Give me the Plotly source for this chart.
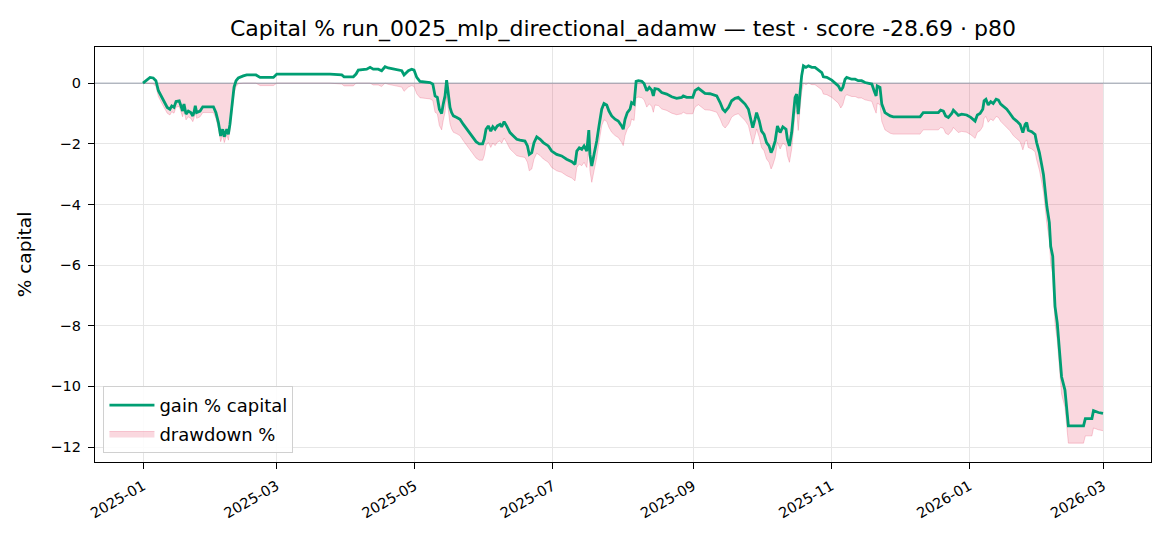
import numpy as np
import pandas as pd
import plotly.graph_objects as go

START_DATE = "2025-01-01"

# days since START_DATE
day_offsets = [
    0, 0.9, 3.1, 4.5, 5.7, 6.8, 8.3, 9.7, 10.7, 11.9, 12.7, 13.7, 14.6, 16.0, 16.7,
    17.5, 18.1, 19.0, 20.0, 21.1, 22.0, 22.5, 23.1, 23.7, 25.2, 26.4, 31.1, 32.2, 33.3,
    34.3, 35.2, 35.9, 37.0, 37.7, 38.4, 39.3, 40.2, 41.1, 42.1, 44.3, 45.8, 49.9, 51.7,
    57.6, 59.1, 82.6,
    87.8, 88.8, 92.9, 94.1, 95.1, 98.8, 100.3, 101.7, 103.9, 105.4, 106.9, 108.3, 111.3,
    114.3, 115.3, 116.2, 117.2, 118.7, 119.7, 120.9, 122.3, 126.8, 128.0, 129.0, 130.0,
    130.9, 131.9, 132.6, 133.4, 134.1, 134.8, 135.6, 136.3, 137.1, 138.6, 140.0, 141.5,
    143.0, 145.2, 147.1, 148.5, 150.0, 150.7, 151.5, 152.5, 153.6, 154.5, 155.5, 156.5,
    157.7, 158.4, 159.5, 160.6, 162.1, 163.6, 165.1, 166.5,
    168.7, 169.8, 170.6, 171.7, 172.7, 173.9, 175.4, 176.8, 179.0, 180.5, 182.7, 184.9,
    187.1, 189.4, 190.8, 191.6, 192.7, 193.8, 194.8, 196.0, 196.9, 197.4, 198.2, 199.2,
    200.4, 201.5, 202.6, 203.6, 204.8, 205.8, 207.0, 208.5, 209.9, 211.4, 212.1, 212.9,
    213.9, 215.1, 215.8, 216.9, 217.8, 218.8, 220.3, 221.3, 222.5, 223.6, 224.7, 225.4,
    226.1, 227.6, 229.1, 231.3, 233.5, 235.7, 237.9, 238.6, 240.1, 242.8, 243.8, 245.3,
    246.8, 248.2, 250.4,
    253.4, 254.9, 256.1, 257.1, 258.6, 260.0, 261.5, 262.9, 264.4, 265.9, 267.4, 268.4,
    269.3, 270.3, 271.0, 272.2, 273.2, 274.3, 275.4, 276.5, 277.4, 278.1, 279.2, 280.2,
    281.4, 282.6, 284.0, 284.6, 285.5, 286.5, 287.2, 288.0, 288.7, 289.4, 290.2, 290.9,
    291.7, 292.8, 293.9, 295.4, 296.8, 298.3, 299.8, 300.5, 302.0, 304.2, 305.7, 307.1,
    308.2, 309.1, 310.1, 310.8, 313.0, 314.5, 315.9, 317.4, 318.9, 320.4, 321.9, 322.9,
    323.8, 324.3, 325.5, 326.3, 327.7, 330.0, 331.4,
    343.2, 344.6, 351.3, 352.3, 353.5, 354.5, 355.7, 357.2, 357.9, 359.1, 360.1, 361.6,
    363.8, 365.6, 366.7, 367.5, 368.5, 369.7, 370.9, 371.5, 372.3, 373.3, 374.4, 375.5,
    376.8, 377.8, 378.8, 380.0, 381.5, 382.9, 384.4, 385.9, 387.4, 388.6, 389.6, 390.3,
    391.0, 392.5, 394.0, 394.7, 395.9, 396.9, 397.7, 399.2, 400.3, 400.9, 401.8, 402.1,
    402.8, 403.8, 404.7, 405.7, 407.2, 408.7, 415.4, 416.2, 419.1, 419.8, 422.0, 424.0,
]

# gain % capital
gain_pct = [
    0.00, 0.05, 0.19, 0.17, 0.08, -0.25, -0.47, -0.64, -0.80, -0.86, -0.75, -0.80, -0.60,
    -0.58, -0.75, -0.92, -0.69, -1.02, -0.92, -0.97, -1.08, -0.97, -0.75, -0.97, -0.92,
    -0.78, -0.78, -0.97, -1.30, -1.74, -1.52, -1.77, -1.52, -1.69, -1.36, -0.69, -0.14,
    0.08, 0.17, 0.24, 0.27, 0.27, 0.19, 0.19, 0.30, 0.30,
    0.27, 0.21, 0.21, 0.30, 0.43, 0.46, 0.52, 0.46, 0.46, 0.41, 0.54, 0.50, 0.46, 0.41,
    0.27, 0.35, 0.41, 0.46, 0.43, 0.19, 0.06, 0.02, -0.03, -0.42, -0.47, -0.86, -1.00,
    -0.69, -0.42, 0.10, -0.36, -0.80, -0.97, -1.08, -1.13, -1.19, -1.36, -1.52, -1.74,
    -1.93, -2.00, -2.00, -1.85, -1.52, -1.41, -1.58, -1.44, -1.52, -1.41, -1.36, -1.44,
    -1.27, -1.41, -1.63, -1.74, -1.85, -1.88,
    -1.91, -2.07, -2.35, -2.29, -1.96, -1.77, -1.85, -1.96, -2.07, -2.24, -2.35, -2.40,
    -2.51, -2.59, -2.68, -2.24, -2.13, -2.18, -2.07, -2.24, -1.55, -2.35, -2.73, -2.35,
    -1.91, -1.36, -0.86, -0.67, -0.72, -0.92, -1.08, -1.19, -1.25, -1.41, -1.52, -1.19,
    -0.97, -0.86, -0.64, -0.69, 0.06, 0.08, 0.06, -0.01, -0.25, -0.14, -0.23, -0.42,
    -0.18, -0.20, -0.31, -0.36, -0.45, -0.50, -0.47, -0.42, -0.47, -0.47, -0.25, -0.17,
    -0.25, -0.34, -0.35,
    -0.42, -0.64, -0.86, -0.94, -0.80, -0.58, -0.50, -0.47, -0.58, -0.69, -0.86, -1.19,
    -1.47, -1.19, -0.97, -1.25, -1.58, -1.69, -1.96, -2.07, -2.29, -2.18, -1.91, -1.41,
    -1.63, -1.44, -1.52, -1.85, -2.07, -1.63, -0.97, -0.47, -0.36, -1.02, -0.31, 0.24,
    0.57, 0.52, 0.57, 0.52, 0.52, 0.43, 0.35, 0.21, 0.19, 0.10, -0.01, -0.09, -0.25,
    -0.14, 0.13, 0.19, 0.13, 0.13, 0.08, 0.08, 0.02, -0.01, -0.03, -0.25, -0.42, -0.09,
    -0.14, -0.69, -0.97, -1.08, -1.11,
    -1.11, -0.97, -0.97, -0.89, -0.92, -1.08, -1.13, -1.00, -0.89, -1.00, -1.06, -1.02,
    -1.05, -1.13, -1.19, -1.25, -1.05, -1.00, -0.86, -0.58, -0.53, -0.72, -0.61, -0.67,
    -0.53, -0.56, -0.69, -0.78, -0.86, -1.00, -1.16, -1.25, -1.36, -1.63, -1.36, -1.30,
    -1.55, -1.60, -1.69, -1.96, -2.29, -2.68, -3.01, -4.06, -4.60, -5.38, -5.71, -6.26,
    -7.36, -7.91, -8.90, -9.68, -10.12, -11.30, -11.30, -11.06, -11.06, -10.80, -10.86,
    -10.89,
]

x_tick_values = ["2025-01-01", "2025-03-01", "2025-05-01", "2025-07-01",
                 "2025-09-01", "2025-11-01", "2026-01-01", "2026-03-01"]
x_tick_labels = ["2025-01", "2025-03", "2025-05", "2025-07",
                 "2025-09", "2025-11", "2026-01", "2026-03"]
y_tick_values = [0, -2, -4, -6, -8, -10, -12]

TITLE = "Capital % run_0025_mlp_directional_adamw — test · score -28.69 · p80"

dates = pd.Timestamp(START_DATE) + pd.to_timedelta(np.array(day_offsets), unit="D")
gain = np.array(gain_pct)
drawdown = gain - np.maximum.accumulate(gain)

# axis ranges with 5% margins (matplotlib style)
span_days = max(day_offsets) - min(day_offsets)
x0 = pd.Timestamp(START_DATE) + pd.to_timedelta(min(day_offsets) - 0.05 * span_days, unit="D")
x1 = pd.Timestamp(START_DATE) + pd.to_timedelta(max(day_offsets) + 0.05 * span_days, unit="D")
ymin = min(drawdown.min(), gain.min())
ymax = max(drawdown.max(), gain.max())
yspan = ymax - ymin
y0, y1 = ymin - 0.05 * yspan, ymax + 0.05 * yspan

FONT = "DejaVu Sans"

fig = go.Figure()
fig.add_trace(go.Scatter(
    x=dates, y=drawdown, mode="lines", name="drawdown %",
    fill="tozeroy", fillcolor="rgba(226,40,80,0.18)",
    line=dict(color="rgba(226,40,80,0.22)", width=1),
    legendrank=2, legendgroup="dd",
))
# zero reference line (axhline)
fig.add_trace(go.Scatter(
    x=[x0, x1], y=[0, 0], mode="lines", showlegend=False, hoverinfo="skip",
    line=dict(color="rgba(120,132,150,0.75)", width=1),
))
fig.add_trace(go.Scatter(
    x=dates, y=gain, mode="lines", name="gain % capital",
    line=dict(color="#009E73", width=2.8),
    legendrank=1, legendgroup="gain",
))

axis_common = dict(
    showline=True, linecolor="black", linewidth=1.3, mirror=True,
    ticks="outside", ticklen=6, tickwidth=1.2, tickcolor="black",
    showgrid=True, gridcolor="#e6e6e6", gridwidth=1,
    zeroline=False,
    tickfont=dict(family=FONT, size=14.5, color="black"),
)

fig.update_layout(
    width=1170, height=546,
    paper_bgcolor="white", plot_bgcolor="white",
    margin=dict(l=87, r=27, t=39, b=92),
    font=dict(family=FONT, size=14, color="black"),
    title=dict(text=TITLE, x=0.5, xref="paper", xanchor="center",
               y=1 - 20 / 546, yref="container", yanchor="middle",
               font=dict(family=FONT, size=22, color="black")),
    xaxis=dict(range=[x0, x1], tickvals=x_tick_values, ticktext=x_tick_labels,
               tickangle=-30, ticklabelstandoff=3, **axis_common),
    yaxis=dict(range=[y0, y1], tickvals=y_tick_values, ticklabelstandoff=4,
               title=dict(text="% capital", standoff=13,
                          font=dict(family=FONT, size=18.5, color="black")),
               **axis_common),
    legend=dict(x=0.008, y=0.022, xanchor="left", yanchor="bottom",
                bgcolor="rgba(255,255,255,0.85)", bordercolor="#d0d0d0", borderwidth=1,
                font=dict(family=FONT, size=18, color="black"),
                itemwidth=45, tracegroupgap=2,
                traceorder="grouped"),
    showlegend=True,
)

fig.write_html("out.html")
